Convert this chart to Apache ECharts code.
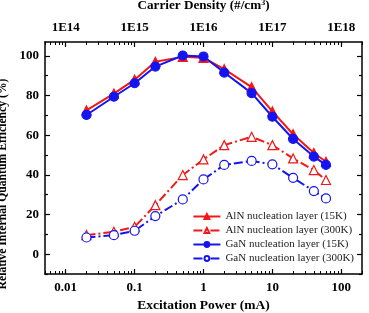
<!DOCTYPE html>
<html><head><meta charset="utf-8">
<script src="https://cdn.jsdelivr.net/npm/echarts@6/dist/echarts.min.js"></script>
<style>html,body{margin:0;padding:0;background:#fff}#c{width:369px;height:313px}</style>
</head><body><div id="c"></div>
<script>
const power = [0.02, 0.05, 0.1, 0.2, 0.5, 1, 2, 5, 10, 20, 40, 60];
const alN15K = [72.5, 81, 88, 97, 99.5, 99, 93.3, 84.2, 72, 60.5, 51, 46.6];
const alN300K = [9.6, 11.3, 13.8, 24.7, 39.9, 47.8, 55, 59.2, 55, 48.3, 42.4, 37.4];
const gaN15K = [70.2, 79.4, 86.2, 94.6, 100.2, 99.7, 91.6, 81.2, 69.3, 58.1, 49.2, 45];
const gaN300K = [8.4, 9.6, 11.8, 19.2, 27.6, 37.7, 45, 47, 45.3, 38.5, 31.8, 28.1];
const seriesNames = ['AlN nucleation layer (15K)', 'AlN nucleation layer (300K)', 'GaN nucleation layer (15K)', 'GaN nucleation layer (300K)'];
const powerTicks = [0.01, 0.1, 1, 10, 100];
const densityTicks = [1e14, 1e15, 1e16, 1e17, 1e18];
const yTicks = [0, 20, 40, 60, 80, 100];
const yMinorTicks = [-10, 10, 30, 50, 70, 90];

const font = '"Liberation Serif","DejaVu Serif",serif';
function minorTicks(lo, hi) {
  const out = [];
  for (let e = Math.floor(Math.log10(lo)); e <= Math.ceil(Math.log10(hi)); e++) {
    for (let k = 1; k <= 9; k++) {
      const v = k * Math.pow(10, e);
      if (v >= lo * 0.999 && v <= hi * 1.001) out.push(v);
    }
  }
  return out;
}
const xmin = 0.005, xmax = 200, dmin = 5e13, dmax = 2e18;
const ymin = -10, ymax = 107;
const axisLine = {show: true, onZero: false, lineStyle: {color: '#000', width: 1.5}};
const noLine = {show: false, onZero: false};
const tickStyle = {color: '#000', width: 1.2};
const xAxes = [
  {type: 'log', min: xmin, max: xmax, position: 'bottom', axisLine,
   axisTick: {inside: true, length: 5, customValues: powerTicks, lineStyle: tickStyle},
   axisLabel: {customValues: powerTicks, margin: 7, fontFamily: font, fontWeight: 'bold', fontSize: 13, color: '#000',
     formatter: v => String(+v.toPrecision(3))},
   splitLine: {show: false},
   name: 'Excitation Power (mA)', nameLocation: 'middle', nameGap: 25,
   nameTextStyle: {fontFamily: font, fontWeight: 'bold', fontSize: 13.5, color: '#000'}},
  {type: 'log', min: xmin, max: xmax, position: 'bottom', axisLine: noLine,
   axisTick: {inside: true, length: 3, customValues: minorTicks(xmin, xmax), lineStyle: {color: '#000', width: 1}},
   axisLabel: {show: false}, splitLine: {show: false}},
  {type: 'log', min: dmin, max: dmax, position: 'top', axisLine,
   axisTick: {inside: true, length: 5, customValues: densityTicks, lineStyle: tickStyle},
   axisLabel: {customValues: densityTicks, margin: 8, fontFamily: font, fontWeight: 'bold', fontSize: 13, color: '#000',
     formatter: v => '1E' + Math.round(Math.log10(v))},
   splitLine: {show: false},
   name: 'Carrier Density (#/cm{s|3})', nameLocation: 'middle', nameGap: 29,
   nameTextStyle: {fontFamily: font, fontWeight: 'bold', fontSize: 13.2, color: '#000',
     rich: {s: {fontSize: 8, verticalAlign: 'top', fontFamily: font, fontWeight: 'bold', padding: [0,0,6,0]}}}},
  {type: 'log', min: dmin, max: dmax, position: 'top', axisLine: noLine,
   axisTick: {inside: true, length: 3, customValues: minorTicks(dmin, dmax), lineStyle: {color: '#000', width: 1}},
   axisLabel: {show: false}, splitLine: {show: false}}
];
const yAxes = [
  {type: 'value', min: ymin, max: ymax, position: 'left', axisLine,
   axisTick: {inside: true, length: 5, customValues: yTicks, lineStyle: tickStyle},
   axisLabel: {customValues: yTicks, margin: 6, fontFamily: font, fontWeight: 'bold', fontSize: 13, color: '#000'},
   splitLine: {show: false},
   name: 'Relative Internal Quantum Efficiency (%)', nameLocation: 'middle', nameGap: 28,
   nameTextStyle: {fontFamily: font, fontWeight: 'bold', fontSize: 11.7, color: '#000', padding: [0, 52, 0, 0]}},
  {type: 'value', min: ymin, max: ymax, position: 'left', axisLine: noLine,
   axisTick: {inside: true, length: 3, customValues: yMinorTicks, lineStyle: tickStyle},
   axisLabel: {show: false}, splitLine: {show: false}},
  {type: 'value', min: ymin, max: ymax, position: 'right', axisLine,
   axisTick: {inside: true, length: 5, customValues: yTicks, lineStyle: tickStyle},
   axisLabel: {show: false}, splitLine: {show: false}},
  {type: 'value', min: ymin, max: ymax, position: 'right', axisLine: noLine,
   axisTick: {inside: true, length: 3, customValues: yMinorTicks, lineStyle: tickStyle},
   axisLabel: {show: false}, splitLine: {show: false}}
];
const RED = '#f01818', BLUE = '#1414f0';
function mk(name, vals, color, symbol, filled, dashed) {
  return {
    name, type: 'line', xAxisIndex: 0, yAxisIndex: 0,
    data: power.map((p, i) => [p, vals[i]]),
    symbol, symbolSize: 9,
    showAllSymbol: true,
    lineStyle: {color, width: 2, type: dashed ? [9, 3, 2, 3] : 'solid'},
    itemStyle: {color: filled ? color : '#fff', borderColor: color, borderWidth: 1.2},
    emphasis: {disabled: true}, animation: false
  };
}
const chart = echarts.init(document.getElementById('c'), null, {renderer: 'canvas'});
chart.setOption({
  animation: false,
  grid: {left: 45, right: 7, top: 42, bottom: 39, containLabel: false, outerBoundsMode: 'none'},
  xAxis: xAxes, yAxis: yAxes,
  legend: {
    orient: 'vertical', right: 10, bottom: 44, itemGap: 3, itemWidth: 27, itemHeight: 6,
    textStyle: {fontFamily: font, fontSize: 11, color: '#222'},
    data: seriesNames
  },
  series: [
    mk(seriesNames[0], alN15K, RED, 'triangle', true, false),
    mk(seriesNames[1], alN300K, RED, 'triangle', false, true),
    mk(seriesNames[2], gaN15K, BLUE, 'circle', true, false),
    mk(seriesNames[3], gaN300K, BLUE, 'circle', false, true)
  ]
});
</script></body></html>
